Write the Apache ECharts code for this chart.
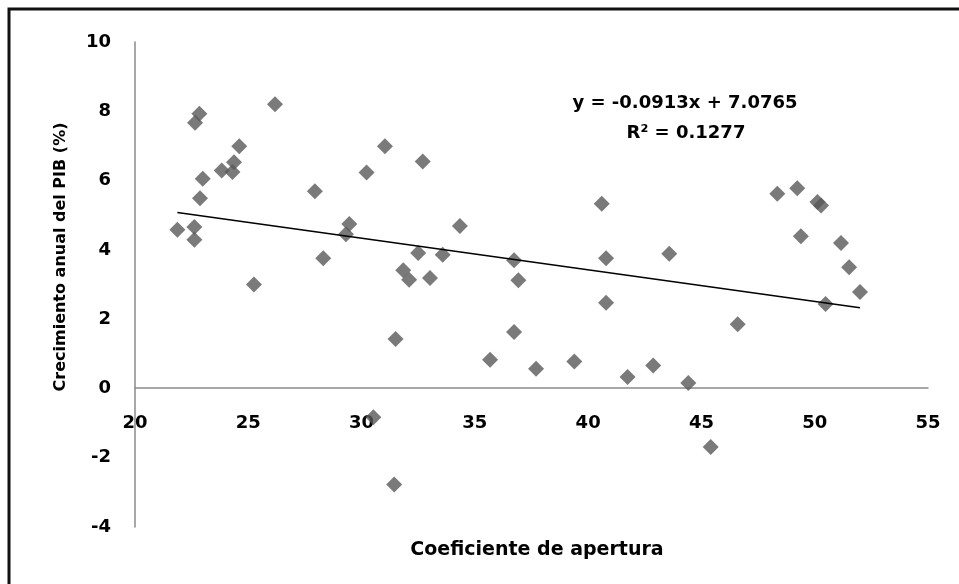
<!DOCTYPE html>
<html>
<head>
<meta charset="utf-8">
<script src="https://cdn.jsdelivr.net/npm/echarts@6/dist/echarts.min.js"></script>
<style>
html,body{margin:0;padding:0;background:#fff;}
#chart{width:959px;height:584px;}
</style>
</head>
<body>
<div id="chart"></div>
<script>
// Coeficiente de apertura (x) values
var aperturaX = [
  26.18, 22.84, 22.65, 24.60, 24.37, 23.83, 24.30, 22.99, 22.87, 21.87,
  22.62, 22.62, 25.25, 27.94, 28.31, 29.46, 29.31, 30.22, 31.03, 32.70,
  32.50, 31.84, 32.10, 33.02, 33.58, 31.50, 30.52, 31.44, 34.34, 40.60,
  36.73, 36.92, 40.79, 40.79, 43.58, 36.73, 35.67, 37.70, 39.39, 41.74,
  42.87, 44.42, 45.41, 46.60, 48.35, 49.23, 50.12, 50.28, 49.39, 51.16,
  51.52, 52.00, 50.48
];
// Crecimiento anual del PIB (%) values
var crecimientoY = [
  8.20, 7.93, 7.67, 6.99, 6.53, 6.29, 6.25, 6.05, 5.49, 4.58,
  4.66, 4.29, 3.00, 5.69, 3.76, 4.75, 4.45, 6.23, 6.99, 6.55,
  3.91, 3.41, 3.14, 3.19, 3.86, 1.43, -0.83, -2.77, 4.69, 5.33,
  3.70, 3.12, 3.76, 2.47, 3.89, 1.63, 0.83, 0.57, 0.78, 0.33,
  0.66, 0.16, -1.69, 1.85, 5.62, 5.78, 5.38, 5.28, 4.39, 4.20,
  3.50, 2.78, 2.44
];
// Regression (as printed on the chart)
var trendCoef = [-0.0913, 7.0765];
var eqLabels = ["y = -0.0913x + 7.0765", "R\u00B2 = 0.1277"];
var xTicks = [20, 55, 5];
var yTicks = [-4, 10, 2];
var axisTitles = ["Coeficiente de apertura", "Crecimiento anual del PIB (%)"];

var points = aperturaX.map(function (x, i) { return [x, crecimientoY[i]]; });
var xMin = Math.min.apply(null, aperturaX), xMax = Math.max.apply(null, aperturaX);
var trend = [xMin, xMax].map(function (x) { return [x, trendCoef[0] * x + trendCoef[1]]; });

var chart = echarts.init(document.getElementById('chart'));
var labelFont = {fontFamily: 'DejaVu Sans', fontWeight: 'bold', fontSize: 18, color: '#000'};
chart.setOption({
  animation: false,
  backgroundColor: '#fff',
  grid: {left: 135, right: 31, top: 42, bottom: 57, containLabel: false},
  xAxis: {
    type: 'value', min: xTicks[0], max: xTicks[1], interval: xTicks[2],
    offset: -139,
    splitLine: {show: false},
    axisTick: {show: false},
    axisLine: {onZero: false, lineStyle: {color: '#8a8a8a', width: 1.5}},
    axisLabel: Object.assign({margin: 26, showMinLabel: true, showMaxLabel: true}, labelFont)
  },
  yAxis: {
    type: 'value', min: yTicks[0], max: yTicks[1], interval: yTicks[2],
    splitLine: {show: false},
    axisTick: {show: false},
    axisLine: {show: true, onZero: false, lineStyle: {color: '#8a8a8a', width: 1.5}},
    axisLabel: Object.assign({margin: 24}, labelFont)
  },
  series: [
    {
      type: 'scatter', data: points, symbol: 'diamond', symbolSize: [16, 16],
      itemStyle: {color: '#595959'}, z: 3
    },
    {
      type: 'line', data: trend, symbol: 'none',
      lineStyle: {color: '#000', width: 1.5}, z: 4
    }
  ],
  graphic: [
    {type: 'rect', shape: {x: 9, y: 9, width: 1100, height: 1100},
      style: {fill: 'none', stroke: '#111', lineWidth: 3}},
    {type: 'text', x: 685, y: 103,
      style: {text: eqLabels[0], fontFamily: 'DejaVu Sans', fontWeight: 'bold', fontSize: 18,
        fill: '#000', textAlign: 'center', textVerticalAlign: 'middle'}},
    {type: 'text', x: 686, y: 133,
      style: {text: eqLabels[1], fontFamily: 'DejaVu Sans', fontWeight: 'bold', fontSize: 18,
        fill: '#000', textAlign: 'center', textVerticalAlign: 'middle'}},
    {type: 'text', x: 537, y: 550,
      style: {text: axisTitles[0], fontFamily: 'DejaVu Sans', fontWeight: 'bold', fontSize: 19,
        fill: '#000', textAlign: 'center', textVerticalAlign: 'middle'}},
    {type: 'text', x: 61, y: 257, rotation: Math.PI / 2,
      style: {text: axisTitles[1], fontFamily: 'DejaVu Sans', fontWeight: 'bold', fontSize: 16,
        fill: '#000', textAlign: 'center', textVerticalAlign: 'middle'}}
  ]
});
</script>
</body>
</html>
